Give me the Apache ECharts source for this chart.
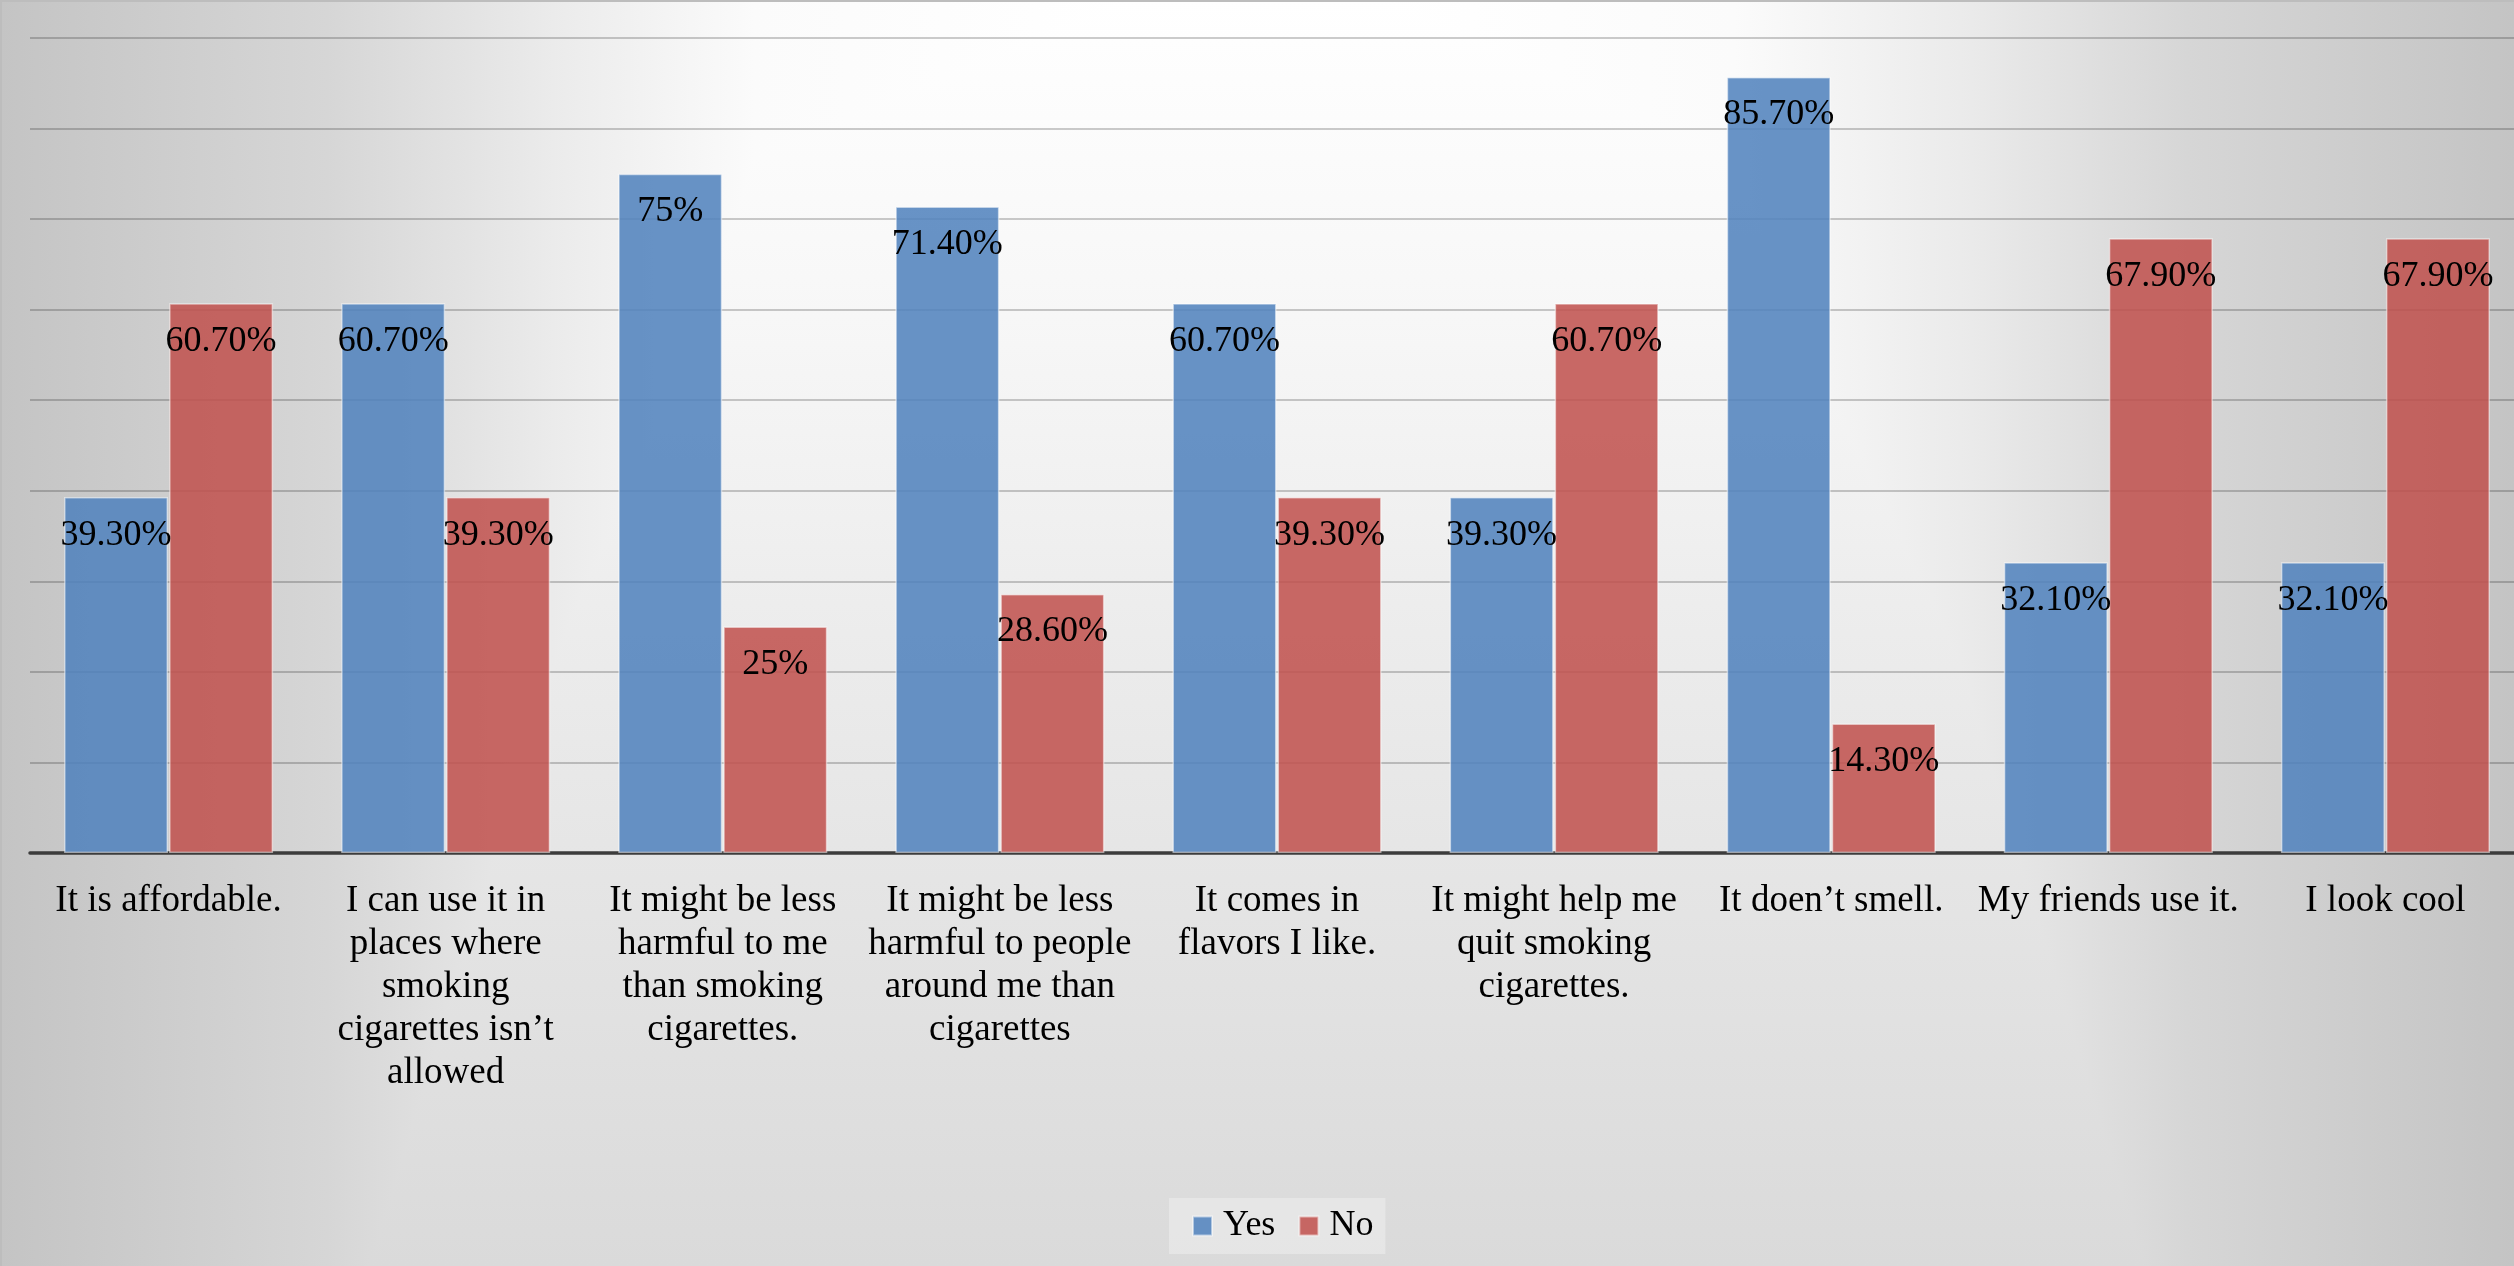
<!DOCTYPE html>
<html>
<head>
<meta charset="utf-8">
<script src="https://cdn.jsdelivr.net/npm/echarts@6/dist/echarts.min.js"></script>
<style>
  html, body { margin: 0; padding: 0; }
  body {
    width: 2514px; height: 1266px; overflow: hidden; position: relative;
    background:
      linear-gradient(to bottom, #ffffff 0%, #f7f7f7 25%, #ececec 50%, #dadada 100%),
      linear-gradient(to right, #c4c4c4 0%, #d6d6d6 13%, #ebebeb 22%, #fbfbfb 30%, #ffffff 45%, #ffffff 55%, #fbfbfb 69%, #ebebeb 78%, #d6d6d6 87%, #c4c4c4 100%);
    background-blend-mode: darken;
  }
  #frame { position: absolute; left: 0; top: 0; width: 2514px; height: 1266px; box-shadow: inset 2px 2px 0 #bdbdbd; pointer-events: none; }
  #chart { position: absolute; left: 0; top: 0; width: 2600px; height: 1266px; }
</style>
</head>
<body>
<div id="chart"></div>
<div id="frame"></div>
<script>
const categories = [
  "It is affordable.",
  "I can use it in\nplaces where\nsmoking\ncigarettes isn\u2019t\nallowed",
  "It might be less\nharmful to me\nthan smoking\ncigarettes.",
  "It might be less\nharmful to people\naround me than\ncigarettes",
  "It comes in\nflavors I like.",
  "It might help me\nquit smoking\ncigarettes.",
  "It doen\u2019t smell.",
  "My friends use it.",
  "I look cool"
];
const seriesNames = ["Yes", "No"];
const yesValues = [39.3, 60.7, 75, 71.4, 60.7, 39.3, 85.7, 32.1, 32.1];
const noValues = [60.7, 39.3, 25, 28.6, 39.3, 60.7, 14.3, 67.9, 67.9];

const FONT = "'Liberation Serif', 'Times New Roman', serif";

function fmt(v) {
  return Number.isInteger(v) ? v + "%" : v.toFixed(2) + "%";
}

const labelCfg = {
  show: true,
  position: "insideTop",
  distance: 20,
  fontFamily: FONT,
  fontSize: 36,
  color: "#000",
  formatter: p => fmt(p.value)
};

const chart = echarts.init(document.getElementById("chart"), null, { renderer: "canvas" });
chart.setOption({
  backgroundColor: "transparent",
  animation: false,
  grid: { left: 30, top: 38, width: 2494, bottom: 413, containLabel: false },
  legend: {
    data: seriesNames,
    left: 1169,
    top: 1198,
    orient: "horizontal",
    backgroundColor: "rgba(255,255,255,0.3)",
    padding: [10, 12, 10, 23],
    itemGap: 23,
    itemWidth: 19,
    itemHeight: 19,
    icon: "rect",
    textStyle: { fontFamily: FONT, fontSize: 36, color: "#000", padding: [0, 0, 0, 6] }
  },
  xAxis: {
    type: "category",
    data: categories,
    axisLine: { show: true, lineStyle: { color: "#3c3c3c", width: 3.5 } },
    axisTick: { show: false },
    axisLabel: {
      interval: 0,
      margin: 27,
      fontFamily: FONT,
      fontSize: 37,
      lineHeight: 43,
      color: "#000",
      align: "center",
      verticalAlign: "top"
    }
  },
  yAxis: {
    type: "value",
    min: 0,
    max: 90,
    interval: 10,
    axisLabel: { show: false },
    axisLine: { show: false },
    axisTick: { show: false },
    splitLine: { show: true, lineStyle: { color: "rgba(0,0,0,0.2)", width: 2 } }
  },
  series: [
    {
      name: seriesNames[0],
      type: "bar",
      data: yesValues,
      barWidth: 104,
      barGap: "1%",
      itemStyle: { color: "rgba(79,129,189,0.86)", borderColor: "rgba(255,255,255,0.5)", borderWidth: 1.5 },
      label: labelCfg
    },
    {
      name: seriesNames[1],
      type: "bar",
      data: noValues,
      barWidth: 104,
      barGap: "1%",
      itemStyle: { color: "rgba(192,80,77,0.86)", borderColor: "rgba(255,255,255,0.5)", borderWidth: 1.5 },
      label: labelCfg
    }
  ]
});
</script>
</body>
</html>
